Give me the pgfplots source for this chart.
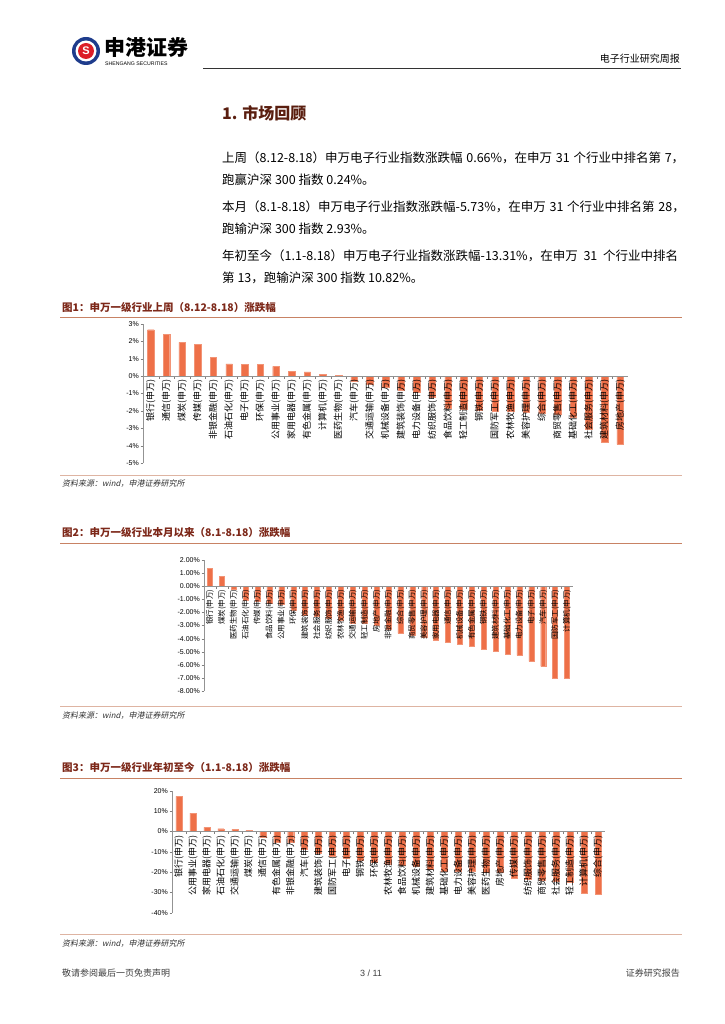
\documentclass[border=0pt]{standalone}
\usepackage{fontspec}
\setmainfont{Liberation Sans}
\newfontfamily\cjk{Noto Sans CJK SC}
\newfontfamily\cjkit[FakeSlant=0.2]{Noto Sans CJK SC}
\usepackage{pgfplots}
\pgfplotsset{compat=1.18}
\XeTeXlinebreaklocale "zh"
\XeTeXlinebreakskip=0pt plus 4pt
\newcommand\jline[2]{\makebox[#1][s]{\spaceskip=0.3em plus 0.15em\relax #2}}

\definecolor{barc}{RGB}{238,112,72}
\definecolor{capc}{RGB}{125,40,25}
\definecolor{titc}{RGB}{90,30,15}
\definecolor{rulec}{RGB}{200,130,100}
\definecolor{logob}{RGB}{30,60,140}
\definecolor{logor}{RGB}{220,30,40}

\pgfplotsset{rank/.style={
  scale only axis, ybar, axis on top,
  axis x line=middle, axis y line=left,
  axis line style={draw=gray!85, -},
  xmin=-0.5, xmax=30.5, xtick=data,
  major x tick style={draw=none},
  minor x tick num=1, minor x tick style={gray},
  tick align=outside, major tick length=2.5pt, minor tick length=2.5pt,
  ytick style={gray},
  xticklabel style={rotate=90, anchor=east, inner sep=1pt},
  yticklabel style={font=\fontsize{7}{7}\selectfont, inner sep=1.5pt},
  /pgf/number format/assume math mode=true,
  enlarge x limits=false, clip=false,
}}
\tikzset{bars/.style={fill=barc, draw=barc!75!white}}

\begin{document}
\begin{tikzpicture}[x=1pt,y=-1pt]
\fill[white] (0,0) rectangle (724,1024);

% header
\fill[logob] (86,51) circle (14);
\fill[white] (86,51) circle (10.5);
\fill[logor] (86,51) circle (8);
\node[white, font=\bfseries\fontsize{11}{11}\selectfont] at (86,51) {S};
\node[anchor=west, inner sep=0, font=\cjk\bfseries\fontsize{21}{21}\selectfont] at (104,47) {申港证券};
\node[anchor=west, inner sep=0, font=\fontsize{5.2}{5.5}\selectfont] at (105,64) {SHENGANG SECURITIES};
\draw[black!80, line width=0.6pt] (203,68) -- (681,68);
\node[anchor=east, inner sep=0, font=\cjk\fontsize{10}{10}\selectfont] at (680,59) {电子行业研究周报};

% section
\node[anchor=west, inner sep=0, text=titc, font=\cjk\bfseries\fontsize{16}{16}\selectfont] at (222,113) {1. 市场回顾};
\begin{scope}[every node/.style={anchor=west, inner sep=0, font=\cjk\fontsize{12.5}{13}\selectfont}]
\node at (222,158) {\jline{458pt}{上周（8.12-8.18）申万电子行业指数涨跌幅 0.66\%，在申万 31 个行业中排名第 7，}};
\node at (222,180) {跑赢沪深 300 指数 0.24\%。};
\node at (222,207) {\jline{458pt}{本月（8.1-8.18）申万电子行业指数涨跌幅-5.73\%，在申万 31 个行业中排名第 28，}};
\node at (222,229) {跑输沪深 300 指数 2.93\%。};
\node at (222,256) {\jline{456pt}{年初至今（1.1-8.18）申万电子行业指数涨跌幅-13.31\%，在申万 31 个行业中排名}};
\node at (222,278) {第 13，跑输沪深 300 指数 10.82\%。};
\end{scope}

% captions, rules, sources
\begin{scope}[every node/.style={anchor=west, inner sep=0}]
\node[text=capc, font=\cjk\bfseries\fontsize{10.5}{11}\selectfont] at (62,307) {图1：申万一级行业上周（8.12-8.18）涨跌幅};
\node[text=capc, font=\cjk\bfseries\fontsize{10.5}{11}\selectfont] at (62,532) {图2：申万一级行业本月以来（8.1-8.18）涨跌幅};
\node[text=capc, font=\cjk\bfseries\fontsize{10.5}{11}\selectfont] at (62,767) {图3：申万一级行业年初至今（1.1-8.18）涨跌幅};
\node[text=black!80, font=\cjkit\fontsize{8}{8}\selectfont] at (62,484) {资料来源：wind，申港证券研究所};
\node[text=black!80, font=\cjkit\fontsize{8}{8}\selectfont] at (62,716) {资料来源：wind，申港证券研究所};
\node[text=black!80, font=\cjkit\fontsize{8}{8}\selectfont] at (62,944) {资料来源：wind，申港证券研究所};
\end{scope}
\draw[rulec, line width=0.9pt] (60,317) -- (682,317);
\draw[rulec, line width=0.9pt] (60,543) -- (682,543);
\draw[rulec, line width=0.9pt] (60,778) -- (682,778);
\draw[rulec!60, line width=0.5pt] (60,475) -- (682,475);
\draw[rulec!60, line width=0.5pt] (60,706) -- (682,706);
\draw[rulec!60, line width=0.5pt] (60,934) -- (682,934);

% footer
\node[anchor=west, inner sep=0, text=black!75, font=\cjk\fontsize{9}{9}\selectfont] at (62,973) {敬请参阅最后一页免责声明};
\node[inner sep=0, text=black!75, font=\fontsize{9}{9}\selectfont] at (371,973) {3 / 11};
\node[anchor=east, inner sep=0, text=black!75, font=\cjk\fontsize{9}{9}\selectfont] at (680,973) {证券研究报告};

\coordinate (c1) at (143,463);
\coordinate (c2) at (204,691);
\coordinate (c3) at (172,912.7);

% chart 1
\begin{axis}[rank, at={(c1)}, anchor=south west,
  width=485pt, height=139pt, bar width=6.5pt,
  ymin=-5, ymax=3, ytick={-5,-4,...,3},
  yticklabel={\pgfmathprintnumber{\tick}\%},
  xticklabel style={font=\cjk\fontsize{9}{9}\selectfont},
  xticklabels={银行(申万),通信(申万),煤炭(申万),传媒(申万),非银金融(申万),石油石化(申万),电子(申万),环保(申万),公用事业(申万),家用电器(申万),有色金属(申万),计算机(申万),医药生物(申万),汽车(申万),交通运输(申万),机械设备(申万),建筑装饰(申万),电力设备(申万),纺织服饰(申万),食品饮料(申万),轻工制造(申万),钢铁(申万),国防军工(申万),农林牧渔(申万),美容护理(申万),综合(申万),商贸零售(申万),基础化工(申万),社会服务(申万),建筑材料(申万),房地产(申万)}]
\addplot[bars] coordinates {(0,2.67) (1,2.42) (2,1.94) (3,1.81) (4,1.10) (5,0.71) (6,0.66) (7,0.66) (8,0.56) (9,0.26) (10,0.25) (11,0.10) (12,0.06) (13,-0.31) (14,-0.48) (15,-0.63) (16,-0.80) (17,-0.94) (18,-1.20) (19,-1.87) (20,-1.90) (21,-1.97) (22,-2.00) (23,-2.03) (24,-2.08) (25,-2.13) (26,-2.21) (27,-2.36) (28,-3.05) (29,-3.80) (30,-3.93)};
\end{axis}

% chart 2
\begin{axis}[rank, at={(c2)}, anchor=south west,
  width=369pt, height=131pt, bar width=5pt,
  ymin=-8, ymax=2, ytick={-8,-7,...,2},
  yticklabel={\pgfmathprintnumber[fixed,fixed zerofill,precision=2]{\tick}\%},
  xticklabel style={font=\cjk\fontsize{7.5}{7.5}\selectfont},
  xticklabels={银行(申万),煤炭(申万),医药生物(申万),石油石化(申万),传媒(申万),食品饮料(申万),公用事业(申万),环保(申万),建筑装饰(申万),社会服务(申万),纺织服饰(申万),农林牧渔(申万),交通运输(申万),轻工制造(申万),房地产(申万),非银金融(申万),综合(申万),商贸零售(申万),美容护理(申万),家用电器(申万),通信(申万),机械设备(申万),有色金属(申万),钢铁(申万),建筑材料(申万),基础化工(申万),电力设备(申万),电子(申万),汽车(申万),国防军工(申万),计算机(申万)}]
\addplot[bars] coordinates {(0,1.35) (1,0.76) (2,-0.20) (3,-1.10) (4,-1.15) (5,-1.30) (6,-1.40) (7,-1.80) (8,-2.20) (9,-2.30) (10,-2.45) (11,-2.60) (12,-2.80) (13,-2.85) (14,-3.00) (15,-3.30) (16,-3.60) (17,-3.75) (18,-3.90) (19,-4.10) (20,-4.30) (21,-4.45) (22,-4.60) (23,-4.83) (24,-4.95) (25,-5.22) (26,-5.28) (27,-5.73) (28,-6.12) (29,-7.00) (30,-7.02)};
\end{axis}

% chart 3
\begin{axis}[rank, at={(c3)}, anchor=south west,
  width=433pt, height=122pt, bar width=6pt,
  ymin=-40, ymax=20, ytick={-40,-30,...,20},
  yticklabel={\pgfmathprintnumber{\tick}\%},
  xticklabel style={font=\cjk\fontsize{9}{9}\selectfont},
  xticklabels={银行(申万),公用事业(申万),家用电器(申万),石油石化(申万),交通运输(申万),煤炭(申万),通信(申万),有色金属(申万),非银金融(申万),汽车(申万),建筑装饰(申万),国防军工(申万),电子(申万),钢铁(申万),环保(申万),农林牧渔(申万),食品饮料(申万),机械设备(申万),建筑材料(申万),基础化工(申万),电力设备(申万),美容护理(申万),医药生物(申万),房地产(申万),传媒(申万),纺织服饰(申万),商贸零售(申万),社会服务(申万),轻工制造(申万),计算机(申万),综合(申万)}]
\addplot[bars] coordinates {(0,17.2) (1,9.0) (2,2.0) (3,1.3) (4,1.0) (5,0.5) (6,-3.0) (7,-5.1) (8,-5.5) (9,-8.7) (10,-10.7) (11,-12.3) (12,-13.31) (13,-14.3) (14,-15.4) (15,-15.9) (16,-16.8) (17,-17.3) (18,-18.4) (19,-19.4) (20,-19.5) (21,-19.6) (22,-19.9) (23,-20.3) (24,-23.2) (25,-23.6) (26,-23.9) (27,-24.6) (28,-25.0) (29,-30.4) (30,-31.0)};
\end{axis}
\end{tikzpicture}
\end{document}
